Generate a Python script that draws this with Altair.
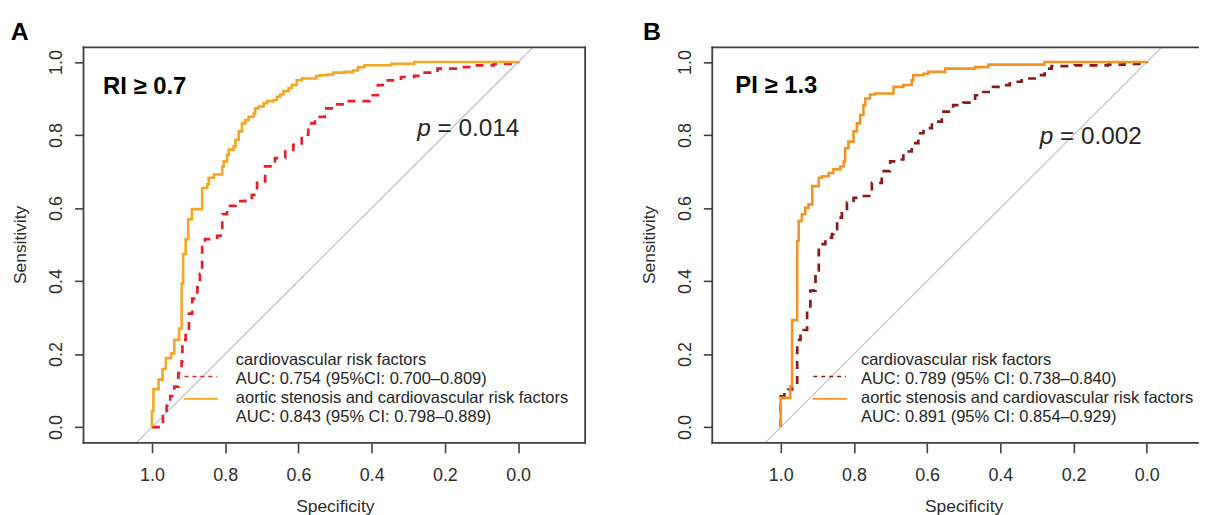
import altair as alt
import pandas as pd

FONT = "Liberation Sans"

# ---------------- data ----------------
# Panel A (RI >= 0.7): cardiovascular risk factors (dashed red)
a_cv_spec = [1.0, 0.980, 0.970, 0.960, 0.950, 0.939, 0.928, 0.919, 0.917, 0.908, 0.899,
             0.890, 0.876, 0.869, 0.863, 0.863, 0.855, 0.822, 0.813, 0.808, 0.795, 0.772,
             0.745, 0.727, 0.713, 0.691, 0.664, 0.636, 0.614, 0.591, 0.573, 0.555, 0.528,
             0.501, 0.474, 0.406, 0.383, 0.356, 0.320, 0.284, 0.266, 0.220, 0.166, 0.130,
             0.067, 0.0]
a_cv_sens = [0.0, 0.0, 0.030, 0.058, 0.085, 0.111, 0.148, 0.180, 0.239, 0.266, 0.311,
             0.352, 0.383, 0.420, 0.456, 0.501, 0.515, 0.524, 0.538, 0.583, 0.606, 0.619,
             0.628, 0.636, 0.669, 0.714, 0.737, 0.755, 0.773, 0.801, 0.832, 0.850, 0.873,
             0.884, 0.893, 0.909, 0.937, 0.950, 0.959, 0.962, 0.971, 0.982, 0.986, 0.991,
             0.995, 1.0]
# Panel A: aortic stenosis and cardiovascular risk factors (solid orange)
a_as_spec = [1.0, 1.0, 0.996, 0.982, 0.971, 0.962, 0.948, 0.939, 0.926, 0.919, 0.915,
             0.908, 0.901, 0.891, 0.863, 0.849, 0.845, 0.831, 0.808, 0.804, 0.795, 0.790,
             0.777, 0.772, 0.763, 0.754, 0.745, 0.736, 0.722, 0.718, 0.709, 0.695, 0.686,
             0.668, 0.659, 0.650, 0.641, 0.627, 0.618, 0.605, 0.591, 0.551, 0.541, 0.519,
             0.505, 0.474, 0.451, 0.437, 0.419, 0.347, 0.284, 0.0]
a_as_sens = [0.0, 0.044, 0.104, 0.130, 0.159, 0.189, 0.202, 0.239, 0.270, 0.393, 0.474,
             0.515, 0.569, 0.597, 0.655, 0.665, 0.683, 0.692, 0.714, 0.728, 0.746, 0.760,
             0.769, 0.787, 0.810, 0.832, 0.841, 0.850, 0.859, 0.873, 0.878, 0.887, 0.893,
             0.896, 0.905, 0.911, 0.920, 0.929, 0.937, 0.950, 0.955, 0.962, 0.964, 0.966,
             0.971, 0.973, 0.977, 0.986, 0.991, 0.995, 1.0, 1.0]

# Panel B (PI >= 1.3): cardiovascular risk factors (dashed dark red)
b_cv_spec = [1.0, 1.0, 0.990, 0.980, 0.969, 0.955, 0.946, 0.937, 0.928, 0.919, 0.905,
             0.896, 0.896, 0.878, 0.860, 0.856, 0.846, 0.833, 0.819, 0.801, 0.778, 0.751,
             0.724, 0.701, 0.683, 0.665, 0.642, 0.624, 0.610, 0.587, 0.560, 0.529, 0.501,
             0.474, 0.469, 0.447, 0.420, 0.397, 0.374, 0.342, 0.297, 0.279, 0.260, 0.197,
             0.106, 0.061, 0.0]
b_cv_sens = [0.0, 0.084, 0.095, 0.103, 0.111, 0.239, 0.257, 0.266, 0.320, 0.374, 0.429,
             0.456, 0.501, 0.519, 0.529, 0.542, 0.574, 0.592, 0.615, 0.628, 0.633, 0.669,
             0.701, 0.728, 0.733, 0.755, 0.778, 0.805, 0.819, 0.837, 0.864, 0.882, 0.889,
             0.891, 0.909, 0.918, 0.932, 0.937, 0.946, 0.955, 0.964, 0.982, 0.989, 0.991,
             0.993, 0.995, 1.0]
# Panel B: aortic stenosis and cardiovascular risk factors (solid orange)
b_as_spec = [1.0, 1.0, 0.974, 0.974, 0.969, 0.955, 0.955, 0.951, 0.942, 0.933, 0.924,
             0.914, 0.896, 0.887, 0.869, 0.856, 0.837, 0.828, 0.824, 0.815, 0.801, 0.792,
             0.783, 0.774, 0.769, 0.756, 0.742, 0.692, 0.665, 0.642, 0.638, 0.610, 0.597,
             0.551, 0.469, 0.433, 0.279, 0.0]
b_as_sens = [0.0, 0.080, 0.089, 0.111, 0.293, 0.302, 0.510, 0.565, 0.583, 0.601, 0.610,
             0.660, 0.683, 0.687, 0.696, 0.706, 0.714, 0.728, 0.764, 0.782, 0.810, 0.832,
             0.855, 0.882, 0.900, 0.911, 0.914, 0.932, 0.937, 0.950, 0.964, 0.968, 0.973,
             0.982, 0.986, 0.993, 1.0, 1.0]

diag_spec = [1.043, -0.04]
diag_sens = [-0.043, 1.04]

tick_values = [1.0, 0.8, 0.6, 0.4, 0.2, 0.0]
panel_letters = ["A", "B"]
thresholds = ["RI \u2265 0.7", "PI \u2265 1.3"]
p_values = ["= 0.014", "= 0.002"]
legend_a = ["cardiovascular risk factors",
            "AUC: 0.754 (95%CI: 0.700\u20130.809)",
            "aortic stenosis and cardiovascular risk factors",
            "AUC: 0.843 (95% CI: 0.798\u20130.889)"]
legend_b = ["cardiovascular risk factors",
            "AUC: 0.789 (95% CI: 0.738\u20130.840)",
            "aortic stenosis and cardiovascular risk factors",
            "AUC: 0.891 (95% CI: 0.854\u20130.929)"]

H = 398
FRAME = "#404040"
TXT = "#262626"


def txt(text, x, y, size, weight="normal", style="normal", align="left",
        baseline="alphabetic", color=TXT):
    return alt.Chart(alt.Data(values=[{}])).mark_text(
        text=text, font=FONT, fontSize=size, fontWeight=weight, fontStyle=style,
        align=align, baseline=baseline, color=color
    ).encode(x=alt.value(x), y=alt.value(y))


def rule(x, x2, y, y2, color=FRAME, width=1.8, dash=None):
    kw = dict(color=color, strokeWidth=width, strokeCap="square")
    if dash:
        kw["strokeDash"] = dash
        kw["strokeCap"] = "butt"
    return alt.Chart(alt.Data(values=[{}])).mark_rule(**kw).encode(
        x=alt.value(x), x2=alt.value(x2), y=alt.value(y), y2=alt.value(y2))


def panel(idx, cv_spec, cv_sens, as_spec, as_sens, legend, cv_color, as_color,
          W, xdom, thr_x, thr_y, p_x, p_y, leg_x, letter_x, right_border):
    xs = alt.Scale(domain=xdom, nice=False, zero=False)
    ys = alt.Scale(domain=[-0.043, 1.04], nice=False, zero=False)
    xaxis = alt.Axis(values=tick_values, format=".1f", title="Specificity",
                     grid=False, domain=False, tickSize=10, tickColor=FRAME,
                     tickWidth=1.6, labelFont=FONT, labelFontSize=18,
                     labelColor="#2e2e2e", labelBaseline="alphabetic",
                     labelPadding=28.2, labelFlush=False,
                     titleFont=FONT, titleFontSize=17.5, titleFontWeight="normal",
                     titleColor="#2e2e2e", titleBaseline="alphabetic",
                     titleX=253, titleY=69.2, titleAlign="center")
    yaxis = alt.Axis(values=tick_values, format=".1f", title="Sensitivity",
                     grid=False, domain=False, tickSize=9, tickColor=FRAME,
                     tickWidth=1.6, labelFont=FONT, labelFontSize=18,
                     labelColor="#2e2e2e", labelAngle=270, labelAlign="center",
                     labelBaseline="alphabetic", labelPadding=12.8, labelFlush=False,
                     titleFont=FONT, titleFontSize=17.5, titleFontWeight="normal",
                     titleColor="#2e2e2e", titleAngle=270, titleAlign="center",
                     titleBaseline="alphabetic", titleX=-58.3, titleY=198.3)
    enc = dict(x=alt.X("spec:Q", scale=xs, axis=xaxis),
               y=alt.Y("sens:Q", scale=ys, axis=yaxis),
               order=alt.Order("i:Q"))

    df_diag = pd.DataFrame({"spec": diag_spec, "sens": diag_sens, "i": [0, 1]})
    df_cv = pd.DataFrame({"spec": cv_spec, "sens": cv_sens, "i": list(range(len(cv_spec)))})
    df_as = pd.DataFrame({"spec": as_spec, "sens": as_sens, "i": list(range(len(as_spec)))})

    diag = alt.Chart(df_diag).mark_line(color="#BDBDBD", strokeWidth=1.1).encode(**enc)
    cv = alt.Chart(df_cv).mark_line(interpolate="step-after", color=cv_color,
                                    strokeWidth=2.7, strokeDash=[8, 7]).encode(**enc)
    as_ = alt.Chart(df_as).mark_line(interpolate="step-after", color=as_color,
                                     strokeWidth=2.6).encode(**enc)

    layers = [diag, cv, as_,
              rule(0, W, 0, 0), rule(0, W, H, H), rule(0, 0, 0, H)]
    if right_border:
        layers.append(rule(W, W, 0, H))

    layers += [
        txt(panel_letters[idx], letter_x, -7.7, 25, weight="bold", color="#000000"),
        txt(thresholds[idx], thr_x, thr_y, 24, weight="bold", color="#000000"),
        txt("p", p_x, p_y, 24.5, style="italic"),
        txt(p_values[idx], p_x + 20.4, p_y, 24.5),
    ]
    rows_y = [314.3, 334.3, 353.3, 372.3]
    for t, yy in zip(legend, rows_y):
        layers.append(txt(t, leg_x, yy, 16.6, baseline="middle"))
    layers.append(rule(101.7, 134.5, 331.3, 331.3, color=cv_color, width=1.6, dash=[4, 4]))
    layers.append(rule(101.7, 134.5, 353.8, 353.8, color=as_color, width=1.6))

    return alt.layer(*layers).properties(width=W, height=H)


pa = panel(0, a_cv_spec, a_cv_sens, a_as_spec, a_as_sens, legend_a,
           "#E3202B", "#F5A623", 505, [1.187, -0.183],
           19.7, 47.3, 335.9, 89.3, 153.4, -73.3, True)
pb = panel(1, b_cv_spec, b_cv_sens, b_as_spec, b_as_sens, legend_b,
           "#8B1A1A", "#F39323", 489, [1.187, -0.140],
           23.2, 46.0, 329.7, 96.8, 149.7, -69.8, False)

chart = alt.hconcat(pa, pb, spacing=128, bounds="flush").properties(
    padding={"left": 2, "top": 10, "right": 0, "bottom": 0},
    background="white"
).configure_view(stroke=None)

chart.save("out.html", embed_options={"renderer": "svg", "actions": False})
